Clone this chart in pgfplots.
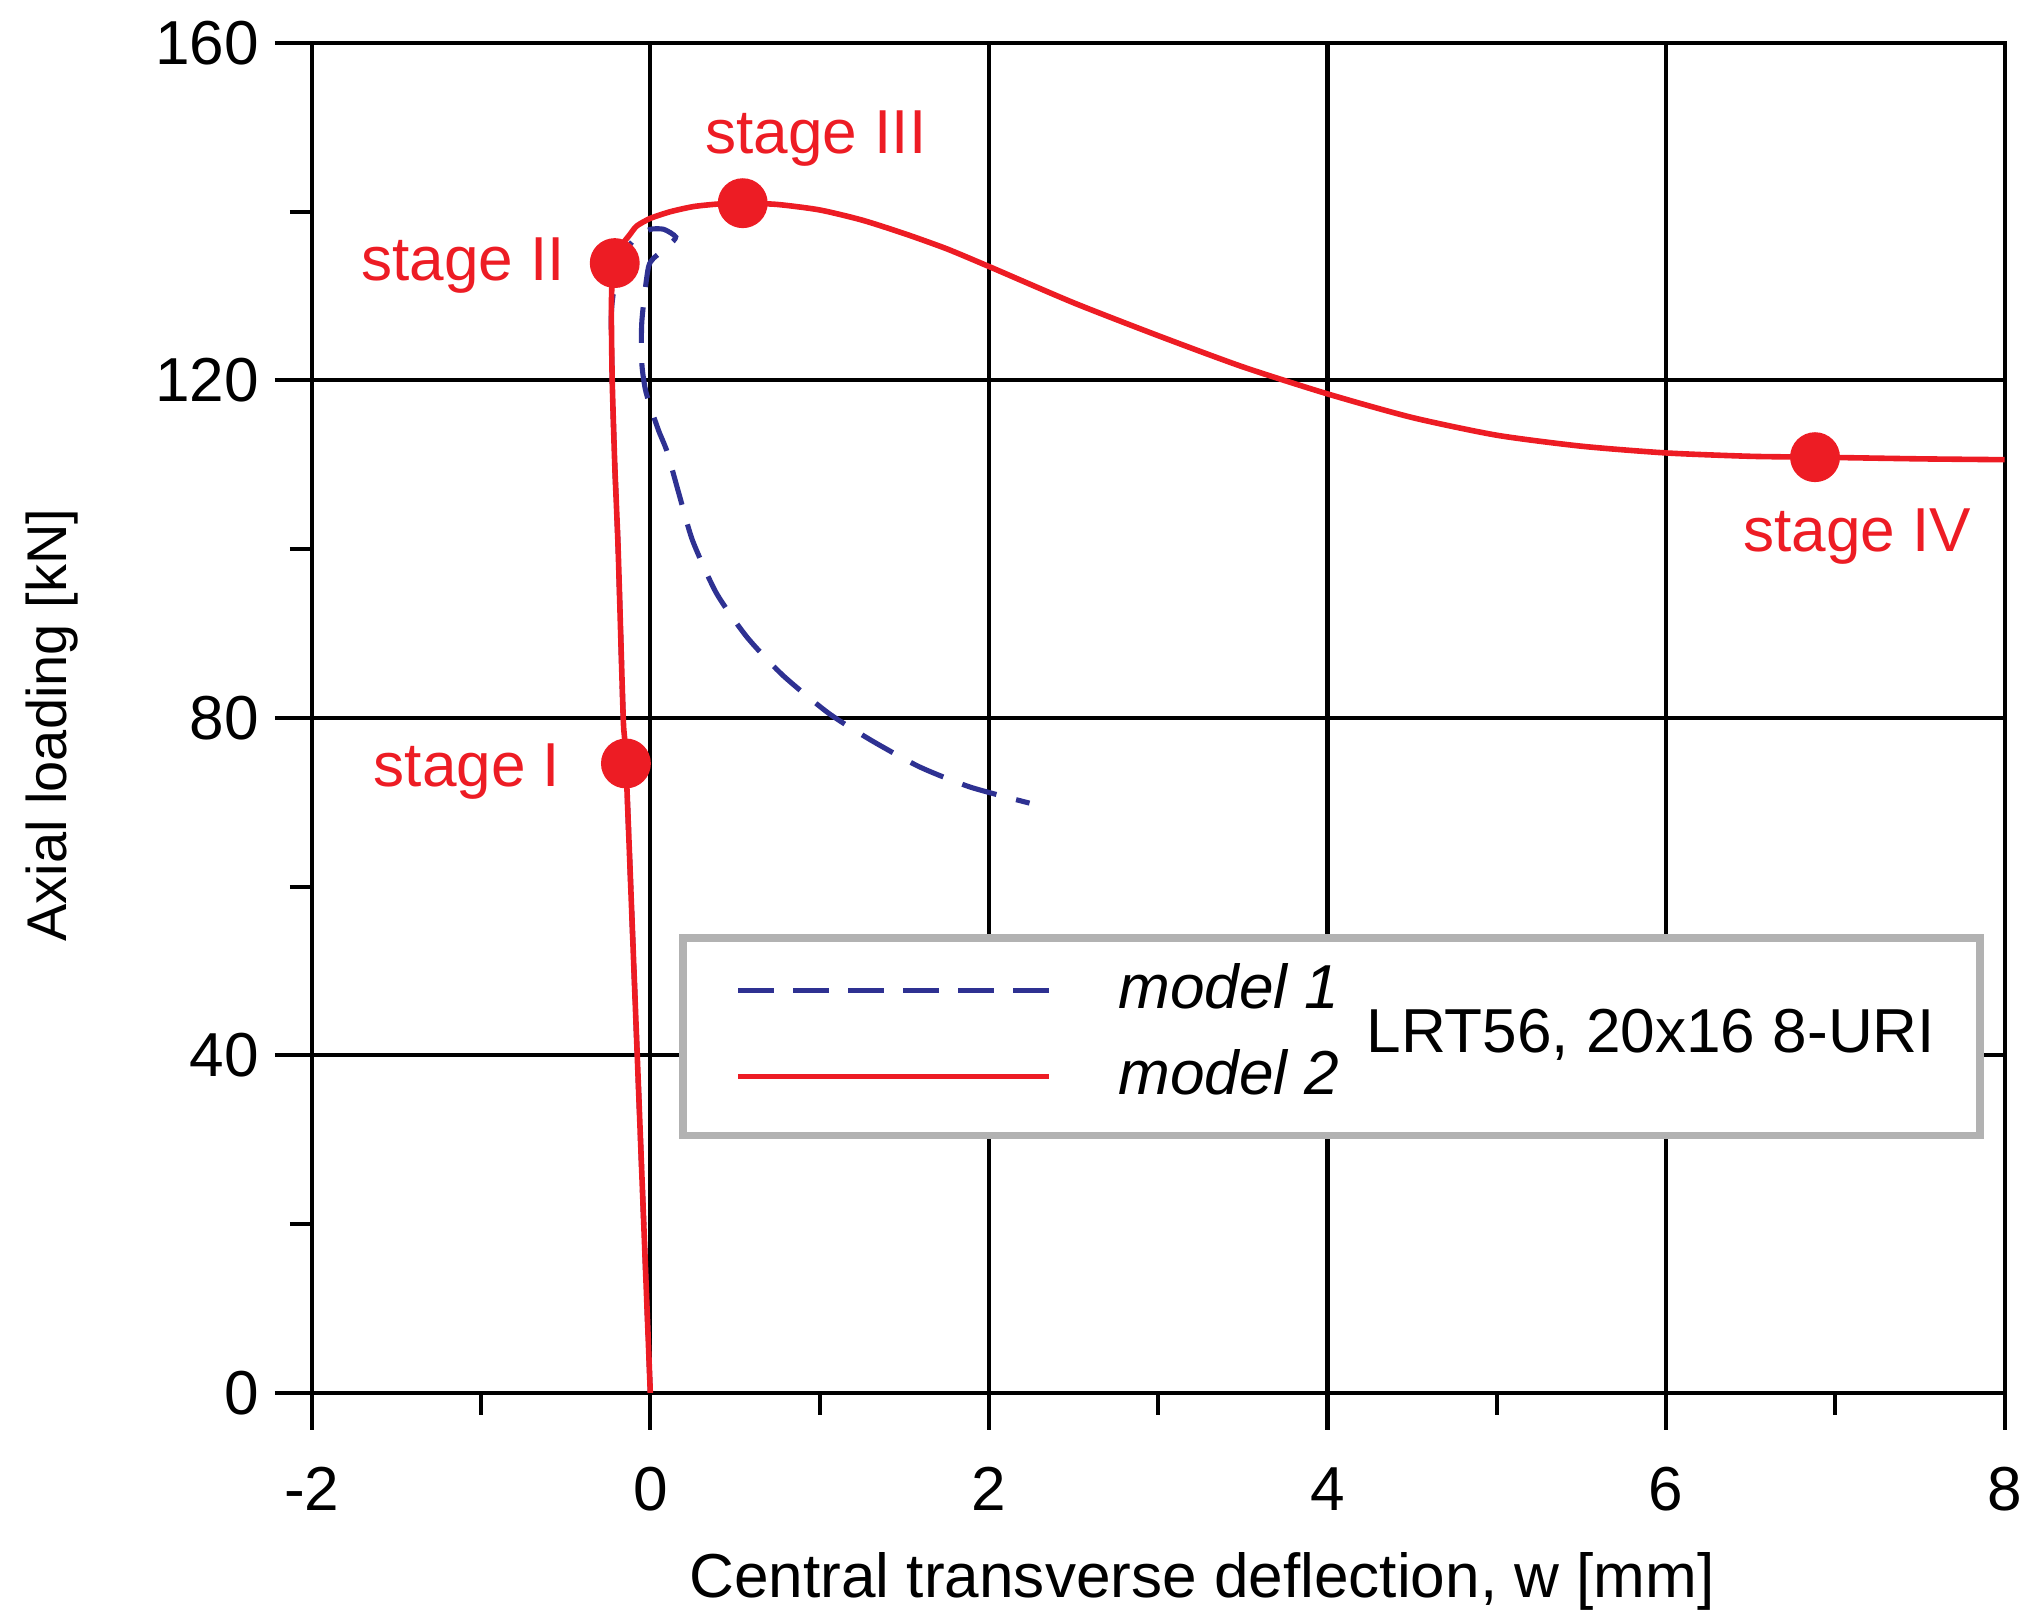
\documentclass[border=0pt]{standalone}
\usepackage{fontspec}
\setmainfont{Liberation Sans}
\usepackage{pgfplots}
\pgfplotsset{compat=1.18}
\definecolor{sred}{HTML}{ED1C24}
\definecolor{sblue}{HTML}{2E3192}
\newcommand{\lbl}{\fontsize{12.2}{14}\selectfont}

\begin{document}
\lbl
\begin{tikzpicture}
\begin{axis}[
    scale only axis,
    width=11.687cm, height=9.32cm,
    xmin=-2, xmax=8, ymin=0, ymax=160,
    xtick={-2,0,2,4,6,8},
    xticklabels={-2,0,2,4,6,8},
    ytick={0,40,80,120,160},
    minor x tick num=1, minor y tick num=1,
    tick pos=left,
    tick align=outside,
    major tick length=0.255cm, minor tick length=0.15cm,
    grid=major,
    major grid style={black, line width=0.8pt},
    axis line style={black, line width=0.8pt},
    every tick/.style={black, line width=0.8pt},
    tick label style={font=\lbl},
    xticklabel style={yshift=-0.11cm},
    yticklabel style={xshift=0.04cm},
    /pgf/number format/assume math mode=true,
    legend style={draw=none, fill=none, at={(axis cs:0.498,42.6)}, anchor=west,
        inner sep=0pt, row sep=0.22cm, font=\lbl\itshape,
        nodes={inner sep=0pt},
        /tikz/every odd column/.append style={column sep=0.46cm}},
    legend cell align=left,
    legend image code/.code={\draw[#1] (0cm,0cm) -- (2.144cm,0cm);},
]
% legend frame
\draw[gray!60, line width=1.5pt, fill=white] (axis cs:0.193,30.5) rectangle (axis cs:7.854,53.95);

% model 1
\addplot[sblue, line width=1pt, dash pattern=on 7pt off 4pt, smooth, tension=0.4,
    legend image post style={dash pattern=on 6.95pt off 3.85pt}] coordinates {
(0,0) (-0.072,37.3) (-0.144,74.6) (-0.16,80) (-0.19,100) (-0.21,110)
(-0.225,120) (-0.23,128) (-0.2,132.5) (-0.14,135.5) (-0.08,137.0)
(0.0,137.9) (0.08,137.9) (0.15,137.0)
(0.11,136.0) (0.05,135.0) (-0.01,133.5) (-0.05,127) (-0.05,122)
(-0.03,119) (0.0,116.9) (0.05,114) (0.1,111.5) (0.17,106.5) (0.25,101)
(0.39,94.8) (0.57,89.6) (0.78,85.1) (1.05,80.6) (1.30,77.4) (1.59,74.2)
(1.89,71.8) (2.24,69.9)
};
\addlegendentry{model 1}

% model 2
\addplot[sred, line width=1.1pt, smooth, tension=0.4] coordinates {
(0,0) (-0.072,37.3) (-0.144,74.6) (-0.16,80) (-0.19,100) (-0.21,110)
(-0.225,120) (-0.23,128) (-0.225,132) (-0.205,134.6) (-0.17,136)
(-0.12,137.3) (-0.08,138.3) (0.0,139.2) (0.12,140.0) (0.256,140.6)
(0.4,140.9) (0.546,141.0) (0.75,140.85) (1.0,140.2) (1.25,139.0)
(1.5,137.4) (1.75,135.6) (2.0,133.5) (2.5,129.2) (3.0,125.3) (3.5,121.6)
(4.0,118.4) (4.5,115.6) (5.0,113.5) (5.5,112.2) (6.0,111.4) (6.5,111.0)
(6.88,110.9) (7.5,110.7) (8.0,110.6)
};
\addlegendentry{model 2}

% stages
\addplot[only marks, mark=*, mark size=4.7pt, sred, forget plot] coordinates {
(-0.144,74.6) (-0.21,133.9) (0.546,141.0) (6.88,110.9)
};

\node[sred, font=\lbl] at (axis cs:0.979,148.7) {stage III};
\node[sred, font=\lbl] at (axis cs:-1.106,133.6) {stage II};
\node[sred, font=\lbl] at (axis cs:-1.083,73.6) {stage I};
\node[sred, font=\lbl] at (axis cs:7.13,101.5) {stage IV};
\node[black, font=\lbl] at (axis cs:5.91,42.5) {LRT56, 20x16 8-URI};
\end{axis}
% axis titles (axis box spans (0,0)--(11.687,9.32))
\node[anchor=base, font=\lbl] at (6.147,-1.415) {Central transverse deflection, w [mm]};
\node[rotate=90, anchor=center, font=\fontsize{11}{13}\selectfont] at (-1.795,4.61) {Axial loading [kN]};
\pgfresetboundingbox
\path[use as bounding box] (-2.152,-1.505) rectangle (11.848,9.616);
\end{tikzpicture}
\end{document}
